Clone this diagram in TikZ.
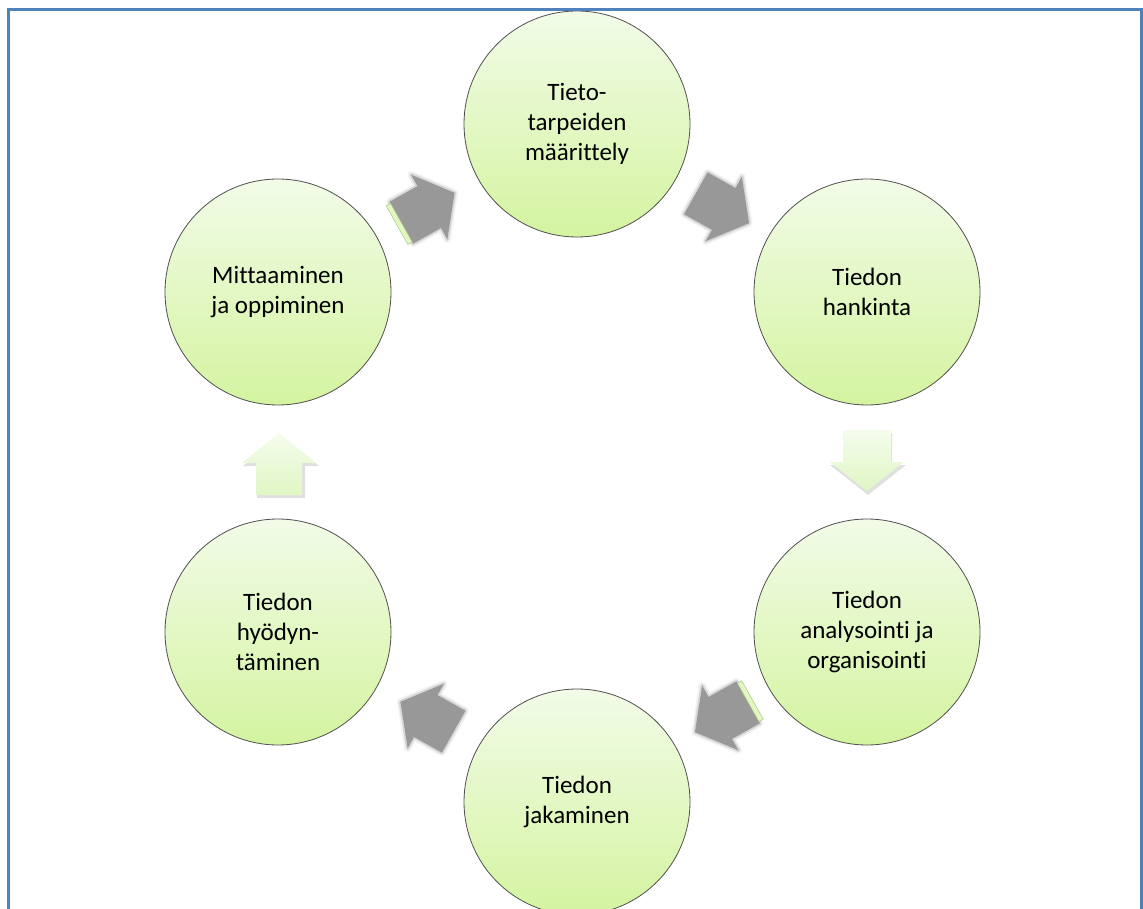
\documentclass[tikz,border=0pt]{standalone}
\usepackage{fontspec}
\setmainfont{Carlito}[Ligatures=NoCommon]
\usetikzlibrary{calc}
\definecolor{framecol}{RGB}{79,129,189}
\definecolor{ctop}{RGB}{242,251,232}
\definecolor{cbot}{RGB}{212,244,160}
\definecolor{cedge}{RGB}{80,80,80}
\definecolor{atop}{RGB}{245,252,237}
\definecolor{abot}{RGB}{224,246,196}
\definecolor{shadowgrey}{RGB}{152,152,152}
\definecolor{stripgreen}{RGB}{226,247,196}
\definecolor{stripedge}{RGB}{170,200,130}
\tikzset{
  cyc/.style={circle, draw=cedge, line width=0.8pt, top color=ctop, bottom color=cbot,
    minimum size=226pt, inner sep=0pt, align=center, font=\fontsize{25}{30}\selectfont},
  framestyle/.style={draw=framecol, line width=3pt},
  blurA/.style={draw=shadowgrey, line width=7pt, opacity=0.12, line join=round},
  blurB/.style={draw=shadowgrey, line width=3.5pt, opacity=0.3, line join=round},
  greyfill/.style={fill=shadowgrey},
  lightarrow/.style={draw=none, top color=atop, bottom color=abot},
  softshadow/.style={fill=black, opacity=0.12},
  stripstyle/.style={fill=stripgreen, draw=stripedge, line width=0.5pt},
  garrow/.pic={
    \path[blurA] (-30,-24) -- (2,-24) -- (2,-37) -- (31,0) -- (2,37) -- (2,24) -- (-30,24) -- cycle;
    \path[blurB] (-30,-24) -- (2,-24) -- (2,-37) -- (31,0) -- (2,37) -- (2,24) -- (-30,24) -- cycle;
    \path[greyfill] (-30,-24) -- (2,-24) -- (2,-37) -- (31,0) -- (2,37) -- (2,24) -- (-30,24) -- cycle;
  },
  garrowstrip/.pic={
    \path[blurA] (-30,-24) -- (2,-24) -- (2,-37) -- (31,0) -- (2,37) -- (2,24) -- (-30,24) -- cycle;
    \path[blurB] (-30,-24) -- (2,-24) -- (2,-37) -- (31,0) -- (2,37) -- (2,24) -- (-30,24) -- cycle;
    \path[greyfill] (-30,-24) -- (2,-24) -- (2,-37) -- (31,0) -- (2,37) -- (2,24) -- (-30,24) -- cycle;
    \path[stripstyle] (-35,-22) rectangle (-30,22);
  },
}
\begin{document}
\begin{tikzpicture}[x=1pt, y=1pt]
  \clip (0,0) rectangle (1143,-909);
  \fill[white] (0,0) rectangle (1143,-909);

  % node positions
  \coordinate (p1) at (577,-124);
  \coordinate (p2) at (867,-292);
  \coordinate (p3) at (867,-632);
  \coordinate (p4) at (577,-802);
  \coordinate (p5) at (278,-632);
  \coordinate (p6) at (278,-292);

  % arrows between circles
  \pic[rotate=29.3] at ($(p6)!0.5!(p1)$) {garrowstrip};
  \pic[rotate=-29.3] at ($(p1)!0.5!(p2)$) {garrow};
  \pic[rotate=209.3] at ($(p3)!0.5!(p4)$) {garrowstrip};
  \pic[rotate=150.7] at ($(p4)!0.5!(p5)$) {garrow};

  % light down arrow
  \begin{scope}[shift={($(p2)!0.5!(p3)$)}]
    \path[softshadow] (-23,29) -- (25,29) -- (25,-3) -- (39,-3) -- (1,-33) -- (-37,-3) -- (-23,-3) -- cycle;
    \path[lightarrow] (-24,32) -- (24,32) -- (24,0) -- (37,0) -- (0,-29) -- (-37,0) -- (-24,0) -- cycle;
  \end{scope}
  % light up arrow
  \begin{scope}[shift={($(p5)!0.5!(p6)$)}]
    \path[softshadow] (-21,-36) -- (27,-36) -- (27,-4) -- (41,-4) -- (3,26) -- (-35,-4) -- (-21,-4) -- cycle;
    \path[lightarrow] (-22,-33) -- (24,-33) -- (24,-1) -- (38,-1) -- (1,29) -- (-36,-1) -- (-22,-1) -- cycle;
  \end{scope}

  % circles
  \node[cyc] (c1) at (p1) {Tieto-\\tarpeiden\\määrittely};
  \node[cyc] (c2) at (p2) {Tiedon\\hankinta};
  \node[cyc] (c3) at (p3) {Tiedon\\analysointi ja\\organisointi};
  \node[cyc] (c4) at (p4) {Tiedon\\jakaminen};
  \node[cyc] (c5) at (p5) {Tiedon\\hyödyn-\\täminen};
  \node[cyc] (c6) at (p6) {Mittaaminen\\ja oppiminen};

  % frame
  \draw[framestyle] (8.5,-915) -- (8.5,-9.5) -- (1141,-9.5) -- (1141,-915);
\end{tikzpicture}
\end{document}
